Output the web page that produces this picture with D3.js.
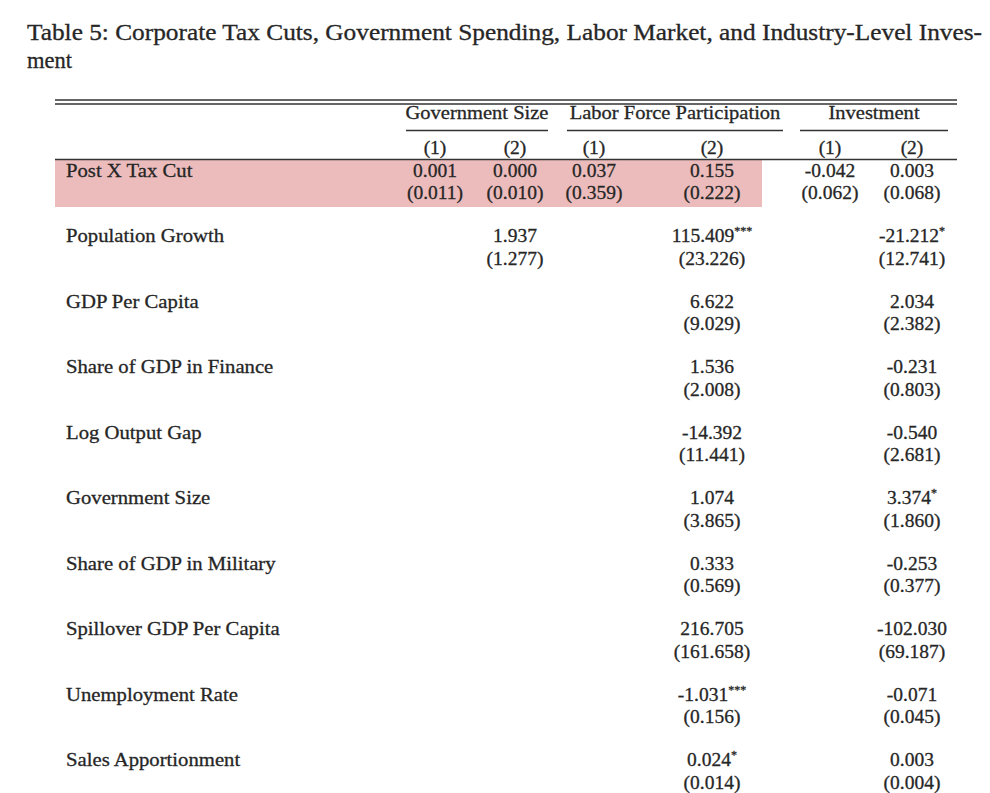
<!DOCTYPE html>
<html><head><meta charset="utf-8">
<script src="https://cdn.jsdelivr.net/npm/d3@7"></script>
<style>body{margin:0;background:#fff}svg{display:block}text{paint-order:stroke}</style>
</head><body>
<script>
// ---------- data ----------
const titleLines = ["Table 5: Corporate Tax Cuts, Government Spending, Labor Market, and Industry-Level Inves-", "ment"];
const groups = ["Government Size", "Labor Force Participation", "Investment"];
const columns = ["gov1", "gov2", "lab1", "lab2", "inv1", "inv2"];
const columnLabels = ["(1)", "(2)", "(1)", "(2)", "(1)", "(2)"];
const rowLabels = ["Post X Tax Cut", "Population Growth", "GDP Per Capita", "Share of GDP in Finance",
  "Log Output Gap", "Government Size", "Share of GDP in Military", "Spillover GDP Per Capita",
  "Unemployment Rate", "Sales Apportionment"];

const gov1Coef = [0.001]; const gov1Se = [0.011];
const gov2Coef = [0.000, 1.937]; const gov2Se = [0.010, 1.277];
const lab1Coef = [0.037]; const lab1Se = [0.359];
const lab2Coef = [0.155, 115.409, 6.622, 1.536, -14.392, 1.074, 0.333, 216.705, -1.031, 0.024];
const lab2Se = [0.222, 23.226, 9.029, 2.008, 11.441, 3.865, 0.569, 161.658, 0.156, 0.014];
const lab2Stars = [0, 3, 0, 0, 0, 0, 0, 0, 3, 1];
const inv1Coef = [-0.042]; const inv1Se = [0.062];
const inv2Coef = [0.003, -21.212, 2.034, -0.231, -0.540, 3.374, -0.253, -102.030, -0.071, 0.003];
const inv2Se = [0.068, 12.741, 2.382, 0.803, 2.681, 1.860, 0.377, 69.187, 0.045, 0.004];
const inv2Stars = [0, 1, 0, 0, 0, 1, 0, 0, 0, 0];
const highlightedCols = ["gov1", "lab2"];

// ---------- layout ----------
const W = 990, H = 793;
const FONT = "'Liberation Serif', 'Times New Roman', serif";
const INK = "#262626";
const svg = d3.select("body").append("svg").attr("width", W).attr("height", H);

const x = d3.scaleOrdinal().domain(columns).range([435, 515, 594, 712, 830, 912]);
const y = d3.scaleLinear().domain([0, rowLabels.length - 1]).range([176.5, 766]);
const gx = d3.scaleOrdinal().domain(groups).range([[406, 548], [567, 783], [800, 948]]);
const tableX = [55, 957];
const fmt = d3.formatLocale({decimal: ".", thousands: ",", grouping: [3], currency: ["", ""], minus: "-"}).format(".3f");

const cols = [
  {key: "gov1", coef: gov1Coef, se: gov1Se, stars: []},
  {key: "gov2", coef: gov2Coef, se: gov2Se, stars: []},
  {key: "lab1", coef: lab1Coef, se: lab1Se, stars: []},
  {key: "lab2", coef: lab2Coef, se: lab2Se, stars: lab2Stars},
  {key: "inv1", coef: inv1Coef, se: inv1Se, stars: []},
  {key: "inv2", coef: inv2Coef, se: inv2Se, stars: inv2Stars}
];
const cells = [];
cols.forEach(c => c.coef.forEach((v, i) => {
  cells.push({col: c.key, row: i, coef: v, se: c.se[i], stars: c.stars[i] || 0});
}));

const ink = sel => sel.attr("fill", INK).attr("stroke", INK).attr("stroke-width", 0.3);

// highlight band
const hlLeft = tableX[0];
const hlRight = x(highlightedCols[1]) + 50;
svg.append("rect").attr("x", hlLeft).attr("y", 159.5)
  .attr("width", hlRight - hlLeft).attr("height", 207 - 159.5)
  .attr("fill", "#ecbcbc");

// title
svg.selectAll("text.title").data(titleLines).join("text")
  .attr("class", "title")
  .attr("x", 27).attr("y", (d, i) => 40 + i * 28)
  .attr("font-family", FONT).attr("font-size", 22.5)
  .call(ink)
  .each(function (d, i) { if (i === 0) d3.select(this).attr("textLength", 955).attr("lengthAdjust", "spacingAndGlyphs"); })
  .text(d => d);

// rules
const rule = (x1, x2, yy, w) => svg.append("line").attr("x1", x1).attr("x2", x2)
  .attr("y1", yy).attr("y2", yy).attr("stroke", "#333").attr("stroke-width", w);
rule(tableX[0], tableX[1], 100, 1.4);
rule(tableX[0], tableX[1], 104, 1.4);
rule(tableX[0], tableX[1], 159.5, 1.3);
groups.forEach(g => rule(gx(g)[0], gx(g)[1], 130.5, 1.4));

// group headers
svg.selectAll("text.group").data(groups).join("text")
  .attr("class", "group")
  .attr("transform", d => `translate(${(gx(d)[0] + gx(d)[1]) / 2},119) scale(1.08,1)`)
  .attr("text-anchor", "middle")
  .attr("font-family", FONT).attr("font-size", 19)
  .call(ink)
  .text(d => d);

// column numbers
svg.selectAll("text.colnum").data(columns).join("text")
  .attr("class", "colnum")
  .attr("x", d => x(d)).attr("y", 153.5)
  .attr("text-anchor", "middle")
  .attr("font-family", FONT).attr("font-size", 19.5)
  .call(ink)
  .text((d, i) => columnLabels[i]);

// row labels
svg.selectAll("text.rowlab").data(rowLabels).join("text")
  .attr("class", "rowlab")
  .attr("transform", (d, i) => `translate(66,${y(i)}) scale(1.09,1)`)
  .attr("font-family", FONT).attr("font-size", 19)
  .call(ink)
  .text(d => d);

// coefficients
const coefT = svg.selectAll("text.coef").data(cells).join("text")
  .attr("class", "coef")
  .attr("x", d => x(d.col)).attr("y", d => y(d.row))
  .attr("text-anchor", "middle")
  .attr("font-family", FONT).attr("font-size", 19.5)
  .call(ink);
coefT.append("tspan").text(d => fmt(d.coef));
coefT.filter(d => d.stars > 0).append("tspan")
  .attr("font-size", 12).attr("dy", -7)
  .text(d => "*".repeat(d.stars));

// standard errors
svg.selectAll("text.se").data(cells).join("text")
  .attr("class", "se")
  .attr("x", d => x(d.col)).attr("y", d => y(d.row) + 22.5)
  .attr("text-anchor", "middle")
  .attr("font-family", FONT).attr("font-size", 19.5)
  .call(ink)
  .text(d => `(${fmt(d.se)})`);
</script>
</body></html>
